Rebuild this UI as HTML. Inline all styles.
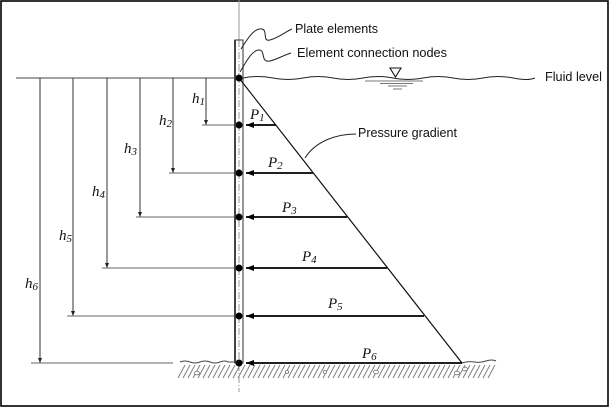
<!DOCTYPE html>
<html><head><meta charset="utf-8"><style>
html,body{margin:0;padding:0;background:#fff;}
svg{display:block;}
.lbl{font-family:"Liberation Sans",Arial,sans-serif;font-size:12.5px;fill:#111;}
.it{font-family:"Liberation Serif","Times New Roman",serif;font-style:italic;font-size:15px;fill:#111;}
.sub{font-size:11px;}
</style></head><body>
<svg width="610" height="408" viewBox="0 0 610 408" xmlns="http://www.w3.org/2000/svg">
<defs>
<marker id="ah" markerWidth="8" markerHeight="6" refX="8" refY="3" orient="auto" markerUnits="userSpaceOnUse">
<path d="M0,0 L8,3 L0,6 Z" fill="#000"/>
</marker>
<marker id="ad" markerWidth="5" markerHeight="6" refX="5" refY="2" orient="auto" markerUnits="userSpaceOnUse">
<path d="M0,0 L5,2 L0,4 Z" fill="#222"/>
</marker>
</defs>
<rect x="1" y="1" width="607" height="405" fill="none" stroke="#000" stroke-width="1.6"/>

<!-- centre line -->
<line x1="239" y1="0" x2="239" y2="40" stroke="#999" stroke-width="1"/>
<line x1="239" y1="40" x2="239" y2="392" stroke="#999" stroke-width="1" stroke-dasharray="7,2,1,2"/>

<!-- fluid level line left -->
<line x1="16" y1="78" x2="239" y2="78" stroke="#444" stroke-width="1.1"/>

<!-- dimension verticals -->
<g stroke="#333" stroke-width="1" fill="none">
<line x1="206" y1="78" x2="206" y2="125" marker-end="url(#ad)"/>
<line x1="173" y1="78" x2="173" y2="173" marker-end="url(#ad)"/>
<line x1="140" y1="78" x2="140" y2="217" marker-end="url(#ad)"/>
<line x1="107" y1="78" x2="107" y2="268" marker-end="url(#ad)"/>
<line x1="73" y1="78" x2="73" y2="316" marker-end="url(#ad)"/>
<line x1="40" y1="78" x2="40" y2="363" marker-end="url(#ad)"/>
</g>
<!-- dimension horizontals -->
<g stroke="#666" stroke-width="1.1">
<line x1="202" y1="125" x2="236" y2="125"/>
<line x1="169" y1="173" x2="236" y2="173"/>
<line x1="136" y1="217" x2="236" y2="217"/>
<line x1="102" y1="268" x2="236" y2="268"/>
<line x1="67" y1="316" x2="236" y2="316"/>
<line x1="31" y1="363" x2="173" y2="363"/>
</g>

<!-- ground hatch -->
<g stroke="#777" stroke-width="0.9">
<path d="M178,378 l7,-13 M183,378 l7,-13 M188,378 l7,-13 M193,378 l7,-13 M198,378 l7,-13 M203,378 l7,-13 M208,378 l7,-13 M213,378 l7,-13 M218,378 l7,-13 M223,378 l7,-13 M228,378 l7,-13 M233,378 l7,-13 M238,378 l7,-13 M243,378 l7,-13 M248,378 l7,-13 M253,378 l7,-13 M258,378 l7,-13 M263,378 l7,-13 M268,378 l7,-13 M273,378 l7,-13 M278,378 l7,-13 M283,378 l7,-13 M288,378 l7,-13 M293,378 l7,-13 M298,378 l7,-13 M303,378 l7,-13 M308,378 l7,-13 M313,378 l7,-13 M318,378 l7,-13 M323,378 l7,-13 M328,378 l7,-13 M333,378 l7,-13 M338,378 l7,-13 M343,378 l7,-13 M348,378 l7,-13 M353,378 l7,-13 M358,378 l7,-13 M363,378 l7,-13 M368,378 l7,-13 M373,378 l7,-13 M378,378 l7,-13 M383,378 l7,-13 M388,378 l7,-13 M393,378 l7,-13 M398,378 l7,-13 M403,378 l7,-13 M408,378 l7,-13 M413,378 l7,-13 M418,378 l7,-13 M423,378 l7,-13 M428,378 l7,-13 M433,378 l7,-13 M438,378 l7,-13 M443,378 l7,-13 M448,378 l7,-13 M453,378 l7,-13 M458,378 l7,-13 M463,378 l7,-13 M468,378 l7,-13 M473,378 l7,-13 M478,378 l7,-13 M483,378 l7,-13 M488,378 l7,-13"/>
</g>
<g fill="#fff" stroke="#777" stroke-width="0.8">
<ellipse cx="197" cy="373" rx="2.5" ry="1.8"/>
<circle cx="287" cy="372" r="1.6"/>
<circle cx="325" cy="372" r="1.6"/>
<ellipse cx="376" cy="372" rx="2.5" ry="1.8"/>
<ellipse cx="457" cy="373" rx="2.5" ry="1.8"/>
<ellipse cx="465" cy="369" rx="2.5" ry="1.8"/>
</g>
<!-- ground surface -->
<path d="M180,362 q5,-2 10,0 t10,0 t10,0 t10,0 t8,0 l6,0" fill="none" stroke="#444" stroke-width="1"/>
<path d="M462,363 q6,-2 12,-1 t12,-1 t10,0" fill="none" stroke="#444" stroke-width="1"/>

<!-- water surface -->
<path d="M243,78 q15,-3 30,0 t30,0 t30,0 t30,0 t30,0 t30,0 t30,0 t30,0 t30,0 t22,0" fill="none" stroke="#222" stroke-width="1"/>
<path d="M390,68 L401,68 L395.5,77 Z" fill="#fff" stroke="#111" stroke-width="1.1"/>
<g stroke="#777" stroke-width="1">
<line x1="365" y1="81" x2="423" y2="81"/>
<line x1="380" y1="83.5" x2="413" y2="83.5"/>
<line x1="388" y1="86" x2="407" y2="86"/>
<line x1="393" y1="89" x2="402" y2="89"/>
</g>

<!-- pile -->
<rect x="235" y="40" width="8" height="323" fill="none" stroke="#444" stroke-width="1.1"/>
<line x1="235" y1="40" x2="235" y2="363" stroke="#444" stroke-width="2"/>

<!-- pressure triangle -->
<line x1="239" y1="78" x2="462" y2="363" stroke="#111" stroke-width="1.2"/>
<g stroke="#000" stroke-width="1.8" marker-end="url(#ah)">
<line x1="276" y1="125" x2="246" y2="125"/>
<line x1="313" y1="173" x2="246" y2="173"/>
<line x1="347" y1="217" x2="246" y2="217"/>
<line x1="387" y1="268" x2="246" y2="268"/>
<line x1="424" y1="316" x2="246" y2="316"/>
<line x1="462" y1="363" x2="246" y2="363"/>
</g>

<!-- nodes -->
<g fill="#000">
<circle cx="239" cy="78" r="3.5"/>
<circle cx="239" cy="125" r="3.5"/>
<circle cx="239" cy="173" r="3.5"/>
<circle cx="239" cy="217" r="3.5"/>
<circle cx="239" cy="268" r="3.5"/>
<circle cx="239" cy="316" r="3.5"/>
<circle cx="239" cy="363" r="3.5"/>
</g>

<!-- leaders -->
<g fill="none" stroke="#222" stroke-width="1">
<path d="M241,49 C248,38 254,28 262,29 C268,30 262,42 270,40 C278,38 285,32 292,29"/>
<path d="M240,72 C246,62 252,50 259,50 C266,50 260,63 270,61 C278,59 284,55 291,53"/>
<path d="M356,134 C335,134 315,142 305,158"/>
</g>

<!-- labels -->
<text class="lbl" x="295" y="33" textLength="83" lengthAdjust="spacingAndGlyphs">Plate elements</text>
<text class="lbl" x="297" y="57" textLength="150" lengthAdjust="spacingAndGlyphs">Element connection nodes</text>
<text class="lbl" x="358" y="137" textLength="99" lengthAdjust="spacingAndGlyphs">Pressure gradient</text>
<text class="lbl" x="545" y="81" textLength="57" lengthAdjust="spacingAndGlyphs">Fluid level</text>

<text class="it" x="192" y="103">h<tspan class="sub" dy="2">1</tspan></text>
<text class="it" x="159" y="125">h<tspan class="sub" dy="2">2</tspan></text>
<text class="it" x="124" y="153">h<tspan class="sub" dy="2">3</tspan></text>
<text class="it" x="92" y="196">h<tspan class="sub" dy="2">4</tspan></text>
<text class="it" x="59" y="240">h<tspan class="sub" dy="2">5</tspan></text>
<text class="it" x="25" y="288">h<tspan class="sub" dy="2">6</tspan></text>

<text class="it" x="250" y="119">P<tspan class="sub" dy="2">1</tspan></text>
<text class="it" x="268" y="167">P<tspan class="sub" dy="2">2</tspan></text>
<text class="it" x="282" y="212">P<tspan class="sub" dy="2">3</tspan></text>
<text class="it" x="302" y="261">P<tspan class="sub" dy="2">4</tspan></text>
<text class="it" x="328" y="308">P<tspan class="sub" dy="2">5</tspan></text>
<text class="it" x="362" y="358">P<tspan class="sub" dy="2">6</tspan></text>
</svg>
</body></html>
